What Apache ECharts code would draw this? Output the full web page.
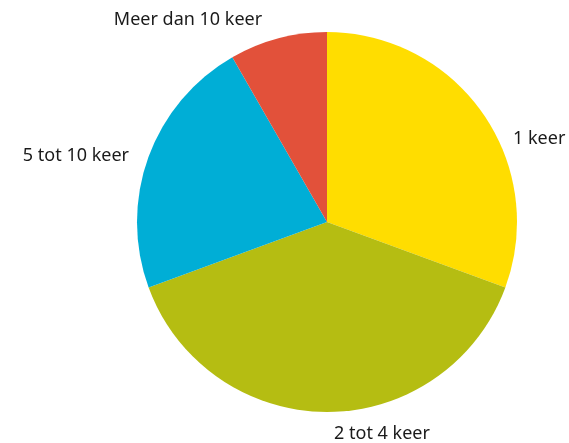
<!DOCTYPE html>
<html><head><meta charset="utf-8">
<script src="https://cdn.jsdelivr.net/npm/echarts@6/dist/echarts.min.js"></script>
<style>html,body{margin:0;padding:0;background:#fff}#c{width:569px;height:443px}</style>
</head><body><div id="c"></div>
<script>
const categories = ['1 keer', '2 tot 4 keer', '5 tot 10 keer', 'Meer dan 10 keer'];
const values = [30.6, 38.8, 22.3, 8.3];
const colors = ['#FFDD00', '#B5BD12', '#00AED6', '#E2513A'];

// label anchor placement (layout only)
const labelPlace = [
  { x: 513, y: 139, align: 'left' },
  { x: 382, y: 434, align: 'center' },
  { x: 129, y: 156, align: 'right' },
  { x: 188, y: 20, align: 'center' }
];

const chart = echarts.init(document.getElementById('c'));
chart.setOption({
  animation: false,
  series: [{
    type: 'pie',
    center: [327, 222],
    radius: 190,
    startAngle: 90,
    clockwise: true,
    data: categories.map((n, i) => ({ name: n, value: values[i], itemStyle: { color: colors[i] } })),
    label: {
      show: true,
      position: 'outside',
      formatter: '{b}',
      color: '#1a1a1a',
      fontSize: 18,
      fontFamily: 'Noto Sans'
    },
    labelLine: { show: false, length: 8, length2: 0 },
    labelLayout: function (p) {
      const L = labelPlace[p.dataIndex];
      return { x: L.x, y: L.y, align: L.align, verticalAlign: 'middle' };
    },
    emphasis: { disabled: true }
  }]
});
</script></body></html>
